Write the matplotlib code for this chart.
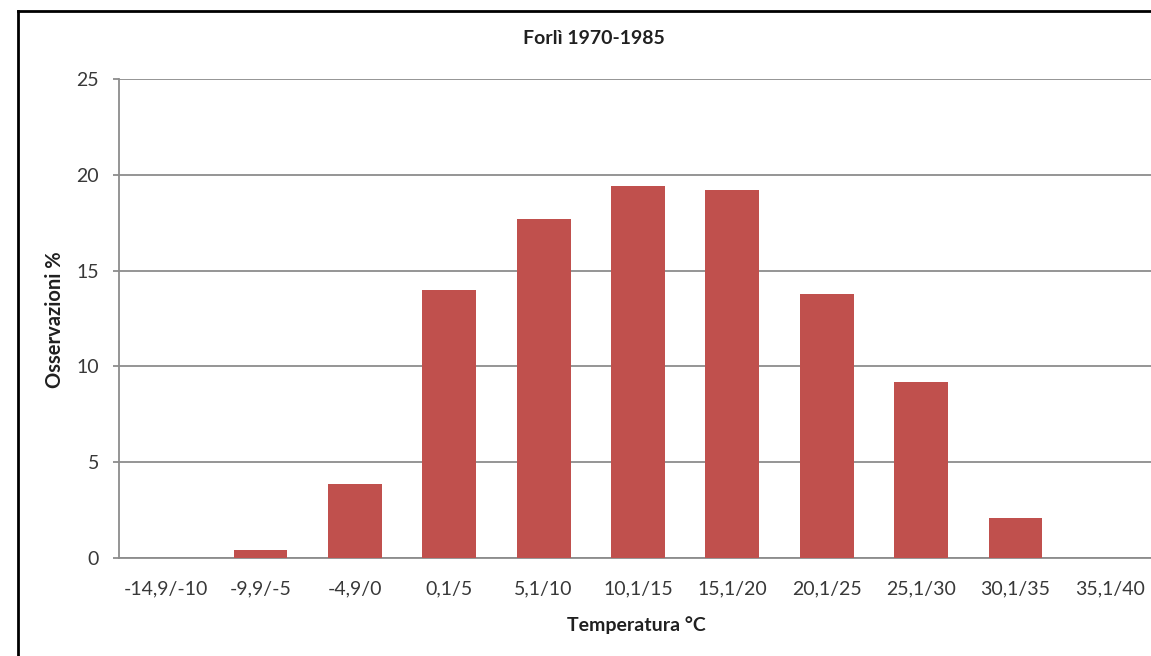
import matplotlib
matplotlib.use("Agg")
import matplotlib.pyplot as plt
from matplotlib.lines import Line2D
import numpy as np

categories = ["-14,9/-10", "-9,9/-5", "-4,9/0", "0,1/5", "5,1/10", "10,1/15",
              "15,1/20", "20,1/25", "25,1/30", "30,1/35", "35,1/40"]
values = [0.0, 0.4, 3.85, 14.0, 17.7, 19.4, 19.2, 13.8, 9.2, 2.1, 0.0]
yticks = [0, 5, 10, 15, 20, 25]

title = "Forlì 1970-1985"
xlabel = "Temperatura °C"
ylabel = "Osservazioni %"

W, H = 1151, 656
plt.rcParams['font.family'] = ['Lato', 'DejaVu Sans']
fig = plt.figure(figsize=(W / 100, H / 100), dpi=100)
fig.patch.set_facecolor("white")

left = 119 / W
bottom = 1 - 558 / H
top = 1 - 79 / H
ax = fig.add_axes([left, bottom, 1 - left, top - bottom])
x = np.arange(len(categories))
ax.bar(x, values, width=0.57, color="#C0504D", zorder=3)
ax.set_xlim(-0.5, 10.5 - 6 / 94.5)
ax.set_ylim(0, 25)
ax.set_yticks(yticks)
ax.set_xticks(x)
ax.set_xticklabels(categories)
ax.yaxis.grid(True, color="#8C8C8C", linewidth=1.3, zorder=0)
for s in ["top", "right"]:
    ax.spines[s].set_visible(False)
for s in ["left", "bottom"]:
    ax.spines[s].set_color("#8C8C8C")
    ax.spines[s].set_linewidth(1.3)
ax.tick_params(axis="y", length=4.5, width=1.3, color="#8C8C8C", pad=10,
               labelsize=14, labelcolor="#383838")
ax.tick_params(axis="x", length=0, pad=16, labelsize=14, labelcolor="#383838")
ax.set_facecolor("white")

fig.text(594 / W, 1 - 38 / H, title, ha="center", va="center",
         fontsize=14, fontweight="bold", color="#202020")
fig.text(636 / W, 1 - 625 / H, xlabel, ha="center", va="center",
         fontsize=14, fontweight="bold", color="#202020")
fig.text(55 / W, 1 - 320 / H, ylabel, ha="center", va="center", rotation=90,
         fontsize=14.5, fontweight="bold", color="#202020")

fig.add_artist(Line2D([18 / W, 18 / W], [0, 1 - 11 / H], color="black",
                      linewidth=2, transform=fig.transFigure))
fig.add_artist(Line2D([18 / W, 1], [1 - 11 / H, 1 - 11 / H], color="black",
                      linewidth=2, transform=fig.transFigure))

fig.savefig("out.png", dpi=100)
